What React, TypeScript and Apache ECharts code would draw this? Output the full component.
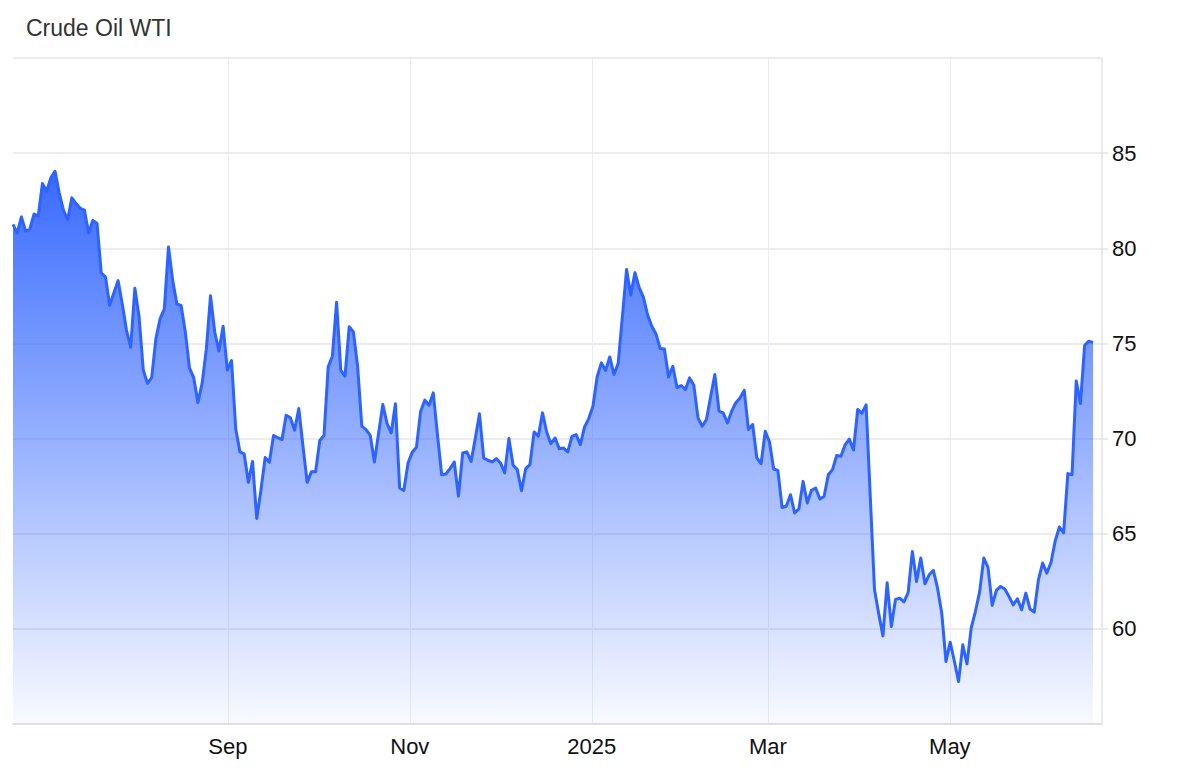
import React, { useEffect, useRef } from "react";
import * as echarts from "echarts";

// Axis span (one year) and the span covered by the sampled prices
const AXIS_START = "2024-06-21";
const AXIS_END = "2025-06-21";
const LAST_SAMPLE = "2025-06-18";

// WTI price samples, evenly spaced from AXIS_START to LAST_SAMPLE
const prices: number[] = [
  81.26, 80.8, 81.65, 80.9, 81.0, 81.8, 81.7, 83.4, 83.0, 83.7,
  84.05, 82.9, 82.0, 81.5, 82.65, 82.35, 82.1, 82.0, 80.8, 81.47,
  81.3, 78.7, 78.5, 77.0, 77.65, 78.3, 77.07, 75.7, 74.8, 77.9,
  76.4, 73.6, 72.9, 73.2, 75.25, 76.3, 76.8, 80.07, 78.3, 77.07,
  77.0, 75.6, 73.7, 73.2, 71.9, 72.9, 74.7, 77.5, 75.6, 74.6,
  75.9, 73.6, 74.1, 70.5, 69.3, 69.2, 67.7, 68.8, 65.8, 67.3,
  69.0, 68.75, 70.16, 70.05, 69.95, 71.23, 71.09, 70.44, 71.58, 69.6,
  67.7, 68.25, 68.25, 69.9, 70.16, 73.77, 74.33, 77.17, 73.58, 73.28,
  75.88, 75.6, 73.8, 70.65, 70.47, 70.17, 68.77, 70.3, 71.79, 70.8,
  70.3, 71.83, 67.4, 67.28, 68.72, 69.28, 69.54, 71.44, 72.02, 71.75,
  72.4, 70.2, 68.1, 68.14, 68.42, 68.77, 66.97, 69.24, 69.3, 68.8,
  70.0, 71.3, 68.98, 68.86, 68.77, 68.95, 68.72, 68.2, 70.0, 68.6,
  68.37, 67.26, 68.42, 68.63, 70.35, 70.12, 71.35, 70.33, 69.73, 70.03,
  69.46, 69.5, 69.3, 70.12, 70.21, 69.68, 70.61, 71.05, 71.7, 73.25,
  73.98, 73.58, 74.29, 73.37, 73.95, 76.4, 78.88, 77.54, 78.72, 77.93,
  77.43, 76.5, 75.9, 75.5, 74.73, 74.71, 73.24, 73.8, 72.68, 72.79,
  72.58, 73.19, 72.8, 71.09, 70.65, 71.0, 72.2, 73.37, 71.44, 71.35,
  70.82, 71.44, 71.88, 72.14, 72.53, 70.47, 70.74, 68.98, 68.68, 70.38,
  69.83, 68.4, 68.33, 66.38, 66.44, 67.05, 66.09, 66.3, 67.75, 66.61,
  67.28, 67.4, 66.82, 66.96, 68.1, 68.37, 69.11, 69.07, 69.67, 69.97,
  69.4, 71.53, 71.33, 71.77, 66.9, 62.05, 60.8, 59.63, 62.42, 60.12,
  61.55, 61.61, 61.42, 61.9, 64.07, 62.49, 63.72, 62.37, 62.84, 63.07,
  62.14, 60.82, 58.28, 59.3, 58.3, 57.23, 59.16, 58.16, 60.04, 60.91,
  61.93, 63.72, 63.23, 61.23, 62.02, 62.23, 62.09, 61.7, 61.26, 61.58,
  61.0, 61.88, 61.04, 60.88, 62.58, 63.46, 62.93, 63.5, 64.63, 65.35,
  65.05, 68.16, 68.1, 73.02, 71.84, 74.9, 75.12, 75.04,
];

// X-axis ticks
const tickDates = ["2024-09-01", "2024-11-01", "2025-01-01", "2025-03-01", "2025-05-01"];
const tickLabels = ["Sep", "Nov", "2025", "Mar", "May"];

// Y-axis range
const Y_MIN = 55;
const Y_MAX = 90;
const Y_STEP = 5;

const TITLE = "Crude Oil WTI";

function toTime(s: string): number {
  const [y, m, d] = s.split("-").map(Number);
  return new Date(y, m - 1, d).getTime();
}

const FONT = 'Helvetica, "Liberation Sans", Arial, sans-serif';

export default function App() {
  const ref = useRef<HTMLDivElement>(null);

  useEffect(() => {
    if (!ref.current) return;
    const chart = echarts.init(ref.current, undefined, { renderer: "svg" });

    const t0 = toTime(AXIS_START);
    const t1 = toTime(LAST_SAMPLE);
    const step = (t1 - t0) / (prices.length - 1);
    const seriesData = prices.map((v, i) => [t0 + i * step, v]);
    const tickTimes = tickDates.map(toTime);

    chart.setOption({
      animation: false,
      title: {
        text: TITLE,
        left: 21,
        top: 11,
        textStyle: {
          fontSize: 23,
          fontWeight: "normal",
          color: "#333333",
          fontFamily: FONT,
        },
      },
      grid: {
        left: 13,
        right: 98,
        top: 58,
        bottom: 58,
        containLabel: false,
      },
      xAxis: {
        type: "value",
        min: toTime(AXIS_START),
        max: toTime(AXIS_END),
        axisLine: { show: true, lineStyle: { color: "#dcdcdc", width: 1.5 } },
        axisTick: { show: false, customValues: tickTimes },
        splitLine: { show: true, lineStyle: { color: "#e9eef6", width: 1 } },
        axisLabel: {
          customValues: tickTimes,
          margin: 11,
          fontSize: 22,
          color: "#111111",
          fontFamily: FONT,
          formatter: (val: number) => {
            const idx = tickTimes.indexOf(val);
            return idx >= 0 ? tickLabels[idx] : "";
          },
        },
      },
      yAxis: {
        type: "value",
        position: "right",
        min: Y_MIN,
        max: Y_MAX,
        interval: Y_STEP,
        axisLine: { show: true, lineStyle: { color: "#e3e3e3", width: 1.5 } },
        axisTick: { show: true, length: 6, lineStyle: { color: "#e3e3e3", width: 1.5 } },
        splitLine: { show: true, lineStyle: { color: "#e6e6e6", width: 1.5 } },
        axisLabel: {
          showMinLabel: false,
          showMaxLabel: false,
          margin: 10,
          fontSize: 22,
          color: "#111111",
          fontFamily: FONT,
        },
      },
      series: [
        {
          type: "line",
          data: seriesData,
          showSymbol: false,
          symbol: "none",
          smooth: false,
          lineStyle: { color: "#2d63ff", width: 3, join: "round" },
          areaStyle: {
            opacity: 1,
            color: new echarts.graphic.LinearGradient(0, 0, 0, 1, [
              { offset: 0, color: "rgba(51, 102, 255, 0.97)" },
              { offset: 0.5, color: "rgba(51, 102, 255, 0.5)" },
              { offset: 1, color: "rgba(51, 102, 255, 0.03)" },
            ]),
          },
        },
      ],
    });

    return () => chart.dispose();
  }, []);

  return (
    <div
      ref={ref}
      style={{ position: "fixed", left: 0, top: 0, width: 1200, height: 782, background: "#ffffff" }}
    />
  );
}
